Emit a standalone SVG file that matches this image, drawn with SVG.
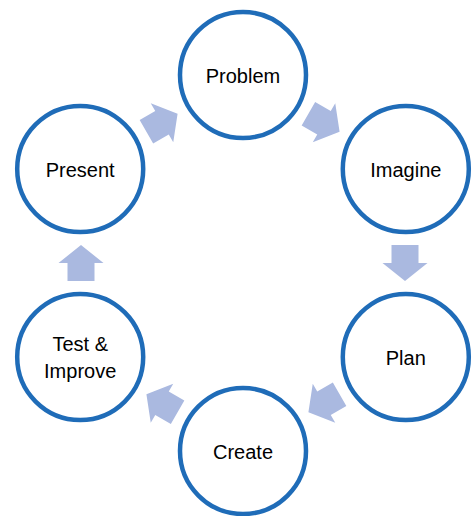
<svg xmlns="http://www.w3.org/2000/svg" width="475" height="516" viewBox="0 0 475 516">
<style>
.node circle{fill:#fff;stroke:#1F6CB8;stroke-width:4.5}
.node text{font-family:"Liberation Sans",Arial,sans-serif;font-size:20px;fill:#000;text-anchor:middle}
.arr{fill:#AAB9E0}
</style>
<defs>
<path id="a" d="M-18,-13.5 H0 V-22.5 L18,0 L0,22.5 V13.5 H-18 Z"/>
</defs>
<rect width="475" height="516" fill="#fff"/>
<g id="connectors" class="arr">
<use href="#a" transform="translate(324,122.7) rotate(30)"/>
<use href="#a" transform="translate(405,263) rotate(90)"/>
<use href="#a" transform="translate(324,403.3) rotate(150)"/>
<use href="#a" transform="translate(162,403.3) rotate(210)"/>
<use href="#a" transform="translate(81,263) rotate(270)"/>
<use href="#a" transform="translate(162,122.7) rotate(330)"/>
</g>
<g id="problem" class="node"><circle cx="243" cy="75" r="63"/><text x="243" y="83">Problem</text></g>
<g id="imagine" class="node"><circle cx="405.8" cy="169" r="63"/><text x="405.8" y="177">Imagine</text></g>
<g id="plan" class="node"><circle cx="405.8" cy="357" r="63"/><text x="405.8" y="365">Plan</text></g>
<g id="create" class="node"><circle cx="243" cy="451" r="63"/><text x="243" y="459">Create</text></g>
<g id="test-improve" class="node"><circle cx="80.2" cy="357" r="63"/><text x="80.2" y="351">Test &amp;</text><text x="80.2" y="378">Improve</text></g>
<g id="present" class="node"><circle cx="80.2" cy="169" r="63"/><text x="80.2" y="177">Present</text></g>
</svg>
